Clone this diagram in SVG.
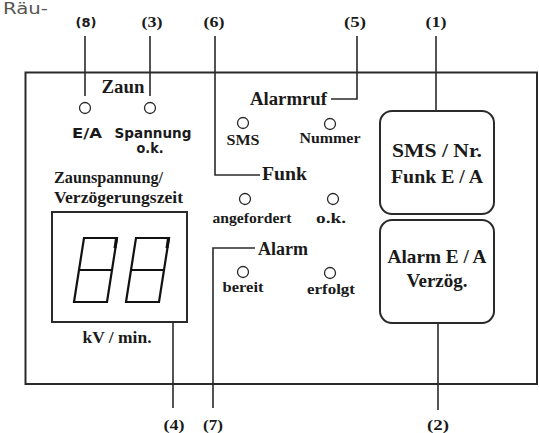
<svg xmlns="http://www.w3.org/2000/svg" width="539" height="433" viewBox="0 0 539 433">
<style>
.ln{stroke:#2a2a2a;stroke-width:1.6;fill:none}
.box{stroke:#2a2a2a;stroke-width:2;fill:none}
.led{stroke:#2a2a2a;stroke-width:1.3;fill:#fff}
.seg{stroke:#111;stroke-width:2.2;fill:none;stroke-linejoin:miter}
.s{font-family:"Liberation Serif","Times New Roman",serif;font-weight:bold;fill:#1a1a1a}
.n{font-family:"DejaVu Sans","Liberation Sans",sans-serif;font-weight:bold;fill:#1a1a1a}
.m{text-anchor:middle}
</style>
<rect width="539" height="433" fill="#fff"/>
<text x="3" y="14" font-family="'DejaVu Sans',sans-serif" font-size="15" fill="#555" textLength="45" lengthAdjust="spacingAndGlyphs">Räu-</text>

<g id="panel">
<rect class="box" x="25.5" y="72.5" width="511.5" height="311.5"/>
</g>

<g id="connectors">
<path class="ln" d="M85,36 V96"/>
<path class="ln" d="M150,36 V96"/>
<path class="ln" d="M215,36 V175 H260"/>
<path class="ln" d="M357,36 V99 H331"/>
<path class="ln" d="M436,36 V111"/>
<path class="ln" d="M438,323 V410"/>
<path class="ln" d="M173,322 V408"/>
<path class="ln" d="M213,408 V248 H255"/>
</g>

<g id="callouts">
<text class="n m" x="86" y="27" font-size="13" textLength="21" lengthAdjust="spacingAndGlyphs">(8)</text>
<text class="s m" x="152" y="27" font-size="15" textLength="21" lengthAdjust="spacingAndGlyphs">(3)</text>
<text class="s m" x="214" y="27" font-size="15" textLength="21" lengthAdjust="spacingAndGlyphs">(6)</text>
<text class="s m" x="355" y="27" font-size="15" textLength="22" lengthAdjust="spacingAndGlyphs">(5)</text>
<text class="s m" x="436" y="27" font-size="15" textLength="21" lengthAdjust="spacingAndGlyphs">(1)</text>
<text class="s m" x="174" y="430" font-size="15" textLength="21" lengthAdjust="spacingAndGlyphs">(4)</text>
<text class="s m" x="213" y="430" font-size="15" textLength="20" lengthAdjust="spacingAndGlyphs">(7)</text>
<text class="s m" x="438" y="430" font-size="15" textLength="22" lengthAdjust="spacingAndGlyphs">(2)</text>
</g>

<g id="zaun">
<text class="s m" x="123" y="93" font-size="18" textLength="43" lengthAdjust="spacingAndGlyphs">Zaun</text>
<circle class="led" cx="85" cy="108" r="5.5"/>
<circle class="led" cx="150" cy="108" r="5.5"/>
<text class="n m" x="87" y="138" font-size="14" textLength="30" lengthAdjust="spacingAndGlyphs">E/A</text>
<text class="n m" x="153" y="138" font-size="14" textLength="77" lengthAdjust="spacingAndGlyphs">Spannung</text>
<text class="n m" x="150" y="153" font-size="14" textLength="27" lengthAdjust="spacingAndGlyphs">o.k.</text>
</g>

<g id="alarmruf">
<text class="s" x="250" y="105" font-size="18" textLength="77" lengthAdjust="spacingAndGlyphs">Alarmruf</text>
<circle class="led" cx="243" cy="123" r="5.5"/>
<circle class="led" cx="330" cy="124" r="5.5"/>
<text class="s m" x="243" y="145" font-size="15" textLength="33" lengthAdjust="spacingAndGlyphs">SMS</text>
<text class="s m" x="330" y="143" font-size="15" textLength="61" lengthAdjust="spacingAndGlyphs">Nummer</text>
</g>

<g id="funk">
<text class="s" x="262" y="180" font-size="18" textLength="45" lengthAdjust="spacingAndGlyphs">Funk</text>
<circle class="led" cx="245" cy="199" r="5.5"/>
<circle class="led" cx="333" cy="199" r="5.5"/>
<text class="s m" x="252" y="223" font-size="15" textLength="79" lengthAdjust="spacingAndGlyphs">angefordert</text>
<text class="s m" x="331" y="223" font-size="15" textLength="30" lengthAdjust="spacingAndGlyphs">o.k.</text>
</g>

<g id="alarm">
<text class="s" x="258" y="255" font-size="18" textLength="50" lengthAdjust="spacingAndGlyphs">Alarm</text>
<circle class="led" cx="243" cy="272" r="5.5"/>
<circle class="led" cx="330" cy="273" r="5.5"/>
<text class="s m" x="243" y="292" font-size="15" textLength="41" lengthAdjust="spacingAndGlyphs">bereit</text>
<text class="s m" x="331" y="294" font-size="15" textLength="48" lengthAdjust="spacingAndGlyphs">erfolgt</text>
</g>

<g id="display">
<text class="s" x="54" y="183" font-size="16" textLength="109" lengthAdjust="spacingAndGlyphs">Zaunspannung/</text>
<text class="s" x="54" y="203" font-size="16" textLength="129" lengthAdjust="spacingAndGlyphs">Verzögerungszeit</text>
<rect class="box" x="52" y="212" width="135" height="110"/>
<path class="seg" d="M84,238 H117 L107,302 H74 Z M79,270 H112"/>
<path class="seg" d="M136,238 H169 L159,302 H126 Z M131,270 H164"/>
<path d="M115,238 h3 l-1.5,10 h-3 Z M167,238 h3 l-1.5,10 h-3 Z" fill="#111"/>
<text class="s m" x="117" y="343" font-size="16" textLength="69" lengthAdjust="spacingAndGlyphs">kV / min.</text>
</g>

<g id="sms-funk">
<rect class="box" x="380" y="111" width="114" height="103" rx="12"/>
<text class="s m" x="437" y="157" font-size="19" textLength="90" lengthAdjust="spacingAndGlyphs">SMS / Nr.</text>
<text class="s m" x="437" y="183" font-size="19" textLength="92" lengthAdjust="spacingAndGlyphs">Funk E / A</text>
</g>

<g id="alarm-verz">
<rect class="box" x="380" y="220" width="114" height="103" rx="12"/>
<text class="s m" x="437" y="263" font-size="19" textLength="99" lengthAdjust="spacingAndGlyphs">Alarm E / A</text>
<text class="s m" x="437" y="287" font-size="19" textLength="61" lengthAdjust="spacingAndGlyphs">Verzög.</text>
</g>
</svg>
